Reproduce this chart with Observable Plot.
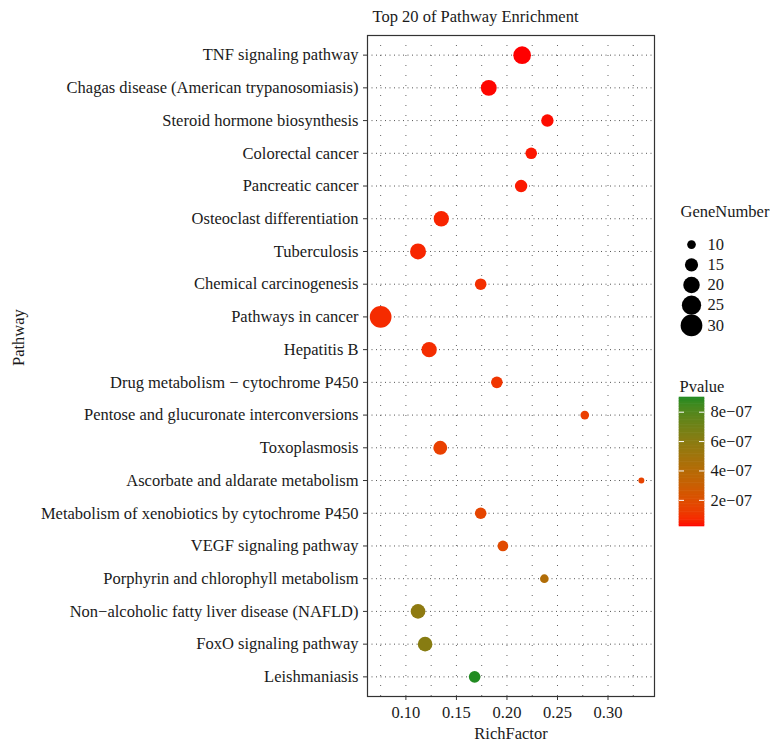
<!DOCTYPE html>
<html>
<head>
<meta charset="utf-8">
<script src="https://cdn.jsdelivr.net/npm/d3@7"></script>
<script src="https://cdn.jsdelivr.net/npm/@observablehq/plot@0.6"></script>
<style>
  body { margin: 0; background: white; }
  #wrap { position: relative; width: 780px; height: 744px; overflow: hidden; }
  #wrap > div { position: absolute; }
</style>
</head>
<body>
<div id="wrap">
  <div id="main" style="left:0;top:0"></div>
  <div id="sizeLegend" style="left:660px;top:195px"></div>
  <div id="colorLegend" style="left:660px;top:375px"></div>
</div>
<script>
const pathways = [
  "TNF signaling pathway",
  "Chagas disease (American trypanosomiasis)",
  "Steroid hormone biosynthesis",
  "Colorectal cancer",
  "Pancreatic cancer",
  "Osteoclast differentiation",
  "Tuberculosis",
  "Chemical carcinogenesis",
  "Pathways in cancer",
  "Hepatitis B",
  "Drug metabolism \u2212 cytochrome P450",
  "Pentose and glucuronate interconversions",
  "Toxoplasmosis",
  "Ascorbate and aldarate metabolism",
  "Metabolism of xenobiotics by cytochrome P450",
  "VEGF signaling pathway",
  "Porphyrin and chlorophyll metabolism",
  "Non\u2212alcoholic fatty liver disease (NAFLD)",
  "FoxO signaling pathway",
  "Leishmaniasis"
];
const richFactor = [0.215, 0.182, 0.240, 0.224, 0.214, 0.135, 0.112, 0.174, 0.075, 0.123,
                    0.190, 0.277, 0.134, 0.333, 0.174, 0.196, 0.237, 0.112, 0.119, 0.168];
const geneNumber = [22, 19, 14, 13, 14, 18, 19, 13, 30, 18,
                    13, 10, 16, 8, 13, 12, 10, 17, 17, 13];
const pvalue = [2.2e-8, 2.5e-8, 3.0e-8, 4.0e-8, 4.5e-8, 6.0e-8, 6.5e-8, 8.5e-8, 7.5e-8, 8.0e-8,
                1.0e-7, 1.3e-7, 1.4e-7, 1.5e-7, 1.6e-7, 1.8e-7, 4.2e-7, 5.8e-7, 6.1e-7, 9.0e-7];
const xTicks = [0.10, 0.15, 0.20, 0.25, 0.30];
const xTickLabels = ["0.10", "0.15", "0.20", "0.25", "0.30"];
const xGrid = [0.075, 0.10, 0.125, 0.15, 0.175, 0.20, 0.225, 0.25, 0.275, 0.30, 0.325];
const sizeBreaks = [10, 15, 20, 25, 30];
const pTicks = [2e-7, 4e-7, 6e-7, 8e-7];
const pTickLabels = ["2e\u221207", "4e\u221207", "6e\u221207", "8e\u221207"];

const data = pathways.map((p, i) => ({pathway: p, rich: richFactor[i], genes: geneNumber[i], p: pvalue[i]}));
const pmin = d3.min(pvalue), pmax = d3.max(pvalue);

const font = "'Liberation Serif', serif";
const fs = 16.5;
const rScale = {type: "sqrt", domain: [0, 23.8], range: [0, 10.85]};
const colorScale = {type: "linear", domain: [pmin, pmax], range: ["#ff0000", "#228b22"], interpolate: "lab"};

const main = Plot.plot({
  width: 780, height: 744,
  marginLeft: 367, marginRight: 126, marginTop: 35, marginBottom: 48,
  style: {fontFamily: font, fontSize: fs + "px", color: "#1a1a1a", background: "white"},
  x: {domain: [0.062, 0.346]},
  y: {type: "point", domain: pathways, padding: 0.6, round: false},
  r: rScale,
  color: colorScale,
  marks: [
    Plot.ruleX(xGrid, {stroke: "#666", strokeWidth: 1, strokeDasharray: "1,9"}),
    Plot.ruleY(pathways, {stroke: "#555", strokeWidth: 1, strokeDasharray: "1,3.5"}),
    Plot.dot(data, {x: "rich", y: "pathway", r: d => d.genes - 6.2, fill: "p"}),
    Plot.frame({stroke: "#333", strokeWidth: 1.2}),
    Plot.axisX(xTicks, {tickSize: 4, tickPadding: 6, tickFormat: (d, i) => xTickLabels[i], label: null, stroke: "#333", fontSize: fs}),
    Plot.axisY(pathways, {tickSize: 4, tickPadding: 5, label: null, stroke: "#333", fontSize: fs}),
    Plot.text(["Top 20 of Pathway Enrichment"], {frameAnchor: "top-left", dx: 5, dy: -19, textAnchor: "start", lineAnchor: "middle", fontSize: fs}),
    Plot.text(["Pathway"], {frameAnchor: "left", dx: -349, rotate: -90, fontSize: fs}),
    Plot.text(["RichFactor"], {frameAnchor: "bottom", dy: 37, lineAnchor: "middle", fontSize: fs})
  ]
});
document.getElementById("main").appendChild(main);

const sizeLegend = Plot.plot({
  width: 120, height: 155, margin: 0,
  style: {fontFamily: font, fontSize: fs + "px", color: "#1a1a1a", background: "transparent"},
  x: {domain: [0, 1], range: [31, 47], axis: null},
  y: {type: "point", domain: sizeBreaks, range: [39, 140], axis: null, round: false},
  r: rScale,
  marks: [
    Plot.dot(sizeBreaks, {x: 0, y: d => d, r: d => d - 6.2, fill: "black"}),
    Plot.text(sizeBreaks, {x: 1, y: d => d, text: d => String(d), textAnchor: "start", fontSize: fs}),
    Plot.text(["GeneNumber"], {frameAnchor: "top-left", dx: 20, dy: 16, textAnchor: "start", lineAnchor: "middle", fontSize: fs})
  ]
});
document.getElementById("sizeLegend").appendChild(sizeLegend);

const nSlices = 80;
const slices = d3.range(nSlices).map(i => {
  const a = pmin + (pmax - pmin) * i / nSlices, b = pmin + (pmax - pmin) * (i + 1) / nSlices;
  return {a, b, m: (a + b) / 2};
});
const colorLegend = Plot.plot({
  width: 120, height: 160, margin: 0,
  style: {fontFamily: font, fontSize: fs + "px", color: "#1a1a1a", background: "transparent"},
  x: {domain: [0, 1], range: [19, 44], axis: null},
  y: {domain: [pmin, pmax], range: [151, 22], axis: null},
  color: colorScale,
  marks: [
    Plot.rect(slices, {x1: 0, x2: 1, y1: "a", y2: "b", fill: "m", inset: -0.3}),
    Plot.ruleY(pTicks, {x1: 0, x2: 0.2, stroke: "white", strokeWidth: 1}),
    Plot.ruleY(pTicks, {x1: 0.8, x2: 1, stroke: "white", strokeWidth: 1}),
    Plot.text(pTicks, {x: 1, y: d => d, dx: 6, text: (d, i) => pTickLabels[i], textAnchor: "start", fontSize: fs}),
    Plot.text(["Pvalue"], {frameAnchor: "top-left", dx: 19, dy: 11, textAnchor: "start", lineAnchor: "middle", fontSize: fs})
  ]
});
document.getElementById("colorLegend").appendChild(colorLegend);
</script>
</body>
</html>
